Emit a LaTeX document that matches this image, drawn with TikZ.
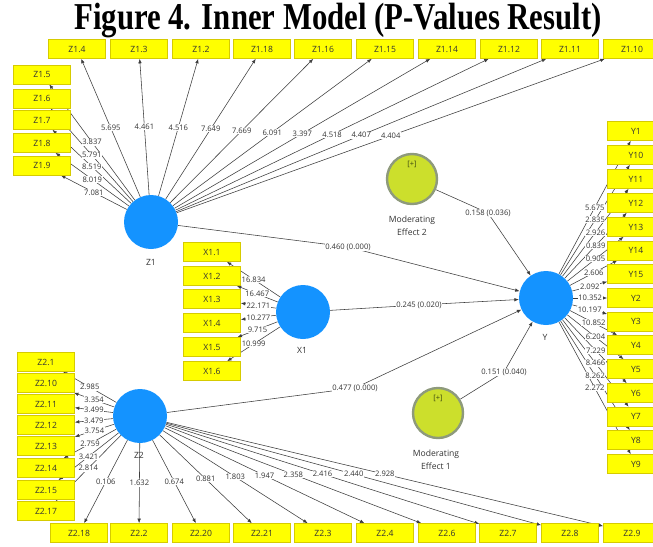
\documentclass[tikz,border=0pt]{standalone}
\usepackage{graphicx}
\usepackage{fontspec}
\setmainfont{Liberation Serif}
\newfontfamily\uifont{Open Sans}
\usetikzlibrary{arrows.meta}
\pgfdeclarelayer{bg}
\pgfdeclarelayer{edges}
\pgfdeclarelayer{labels}
\pgfsetlayers{bg,edges,labels,main}
\definecolor{latblue}{HTML}{1493FF}
\definecolor{boxfill}{HTML}{FFFF00}
\definecolor{boxline}{HTML}{D6CB00}
\definecolor{modfill}{HTML}{CCDF2C}
\definecolor{modline}{HTML}{8E9A7C}
\definecolor{edgecol}{HTML}{3C3C3C}
\definecolor{txtcol}{HTML}{333333}
\definecolor{tagcol}{HTML}{3E4A10}
\newcommand\loadlink[3]{%
  \begin{pgfonlayer}{edges}\draw[arr] (#1) -- (#2);\end{pgfonlayer}%
  \begin{pgfonlayer}{labels}\path (#1) -- (#2) node[lbl,pos=0.5]{#3};\end{pgfonlayer}}
\newcommand\pathlink[4]{%
  \begin{pgfonlayer}{edges}\draw[arr] (#1) -- (#2) -- (#3);\end{pgfonlayer}%
  \begin{pgfonlayer}{labels}\node[lbl] at (#2) {#4};\end{pgfonlayer}}
\begin{document}
\begin{tikzpicture}[x=1pt,y=-1pt,
  ind/.style={rectangle, draw=boxline, fill=boxfill, line width=0.6pt, minimum width=57pt, minimum height=19pt, inner sep=0pt, font=\uifont\fontsize{8.6}{10}\selectfont, text=txtcol},
  lat/.style={circle, fill=latblue, minimum size=54pt, inner sep=0pt},
  modr/.style={circle, fill=modfill, draw=modline, line width=2.4pt, minimum size=50pt, inner sep=0pt},
  arr/.style={draw=edgecol, line width=0.55pt, -{Latex[length=4.5pt,width=3.5pt]}},
  lbl/.style={fill=white, inner sep=0.6pt, font=\uifont\fontsize{7.6}{9}\selectfont, text=txtcol},
  latlbl/.style={font=\uifont\fontsize{8.6}{13}\selectfont, text=txtcol, align=center},
  tagtxt/.style={font=\uifont\fontsize{7.5}{9}\selectfont, text=tagcol}
]
\useasboundingbox (0,0) rectangle (653,546);
\begin{pgfonlayer}{bg}\fill[white] (0,0) rectangle (653,546);\end{pgfonlayer}
\clip (0,0) rectangle (653,546);

\node[anchor=base] (title) at (338,29) {\scalebox{0.81}[1]{\fontsize{38}{40}\selectfont\bfseries Figure 4. Inner Model (P-Values Result)}};

% latent variables
\node[lat] (Z1) at (151,222) {};
\node[latlbl] (z1lab) at (151,262) {Z1};
\node[lat] (X1) at (303,312) {};
\node[latlbl] (x1lab) at (302,350) {X1};
\node[lat] (Y) at (546,298) {};
\node[latlbl] (ylab) at (545,337) {Y};
\node[lat] (Z2) at (140,416) {};
\node[latlbl] (z2lab) at (139,455) {Z2};
\node[modr] (M2) at (412,179) {};
\node[tagtxt] (m2tag) at (412,164) {[+]};
\node[latlbl] (m2lab) at (412,225.5) {Moderating\\Effect 2};
\node[modr] (M1) at (438,413) {};
\node[tagtxt] (m1tag) at (438,398) {[+]};
\node[latlbl] (m1lab) at (436,459.5) {Moderating\\Effect 1};

% Z1 indicators (top row)
\foreach \n/\x/\v in {4/77/5.695, 3/139/4.461, 2/201/4.516, 18/262/7.649, 16/323/7.669, 15/385/6.091, 14/447/3.397, 12/509/4.518, 11/570/4.407, 10/632/4.404} {
  \node[ind] (za\n) at (\x,49) {Z1.\n};
  \loadlink{Z1}{za\n}{\v}
}
% Z1 indicators (left column)
\foreach \n/\y/\v in {5/74.5/3.837, 6/98.8/5.791, 7/120/8.519, 8/143/8.019, 9/165.5/7.081} {
  \node[ind] (zb\n) at (42,\y) {Z1.\n};
  \loadlink{Z1}{zb\n}{\v}
}
% X1 indicators
\foreach \n/\y/\v in {1/252/16.834, 2/276/16.467, 3/299/22.171, 4/323/10.277, 5/347/9.715, 6/371/10.999} {
  \node[ind] (xi\n) at (212,\y) {X1.\n};
  \loadlink{X1}{xi\n}{\v}
}
% Y indicators
\foreach \n/\y/\v in {1/131/5.675, 10/155/2.835, 11/179/2.926, 12/203/0.839, 13/227/0.905, 14/250.5/2.606, 15/274/2.092, 2/298/10.352, 3/321.5/10.197, 4/345/10.852, 5/369/6.204, 6/393/7.229, 7/416.5/8.466, 8/440/8.262, 9/464/2.272} {
  \node[ind] (yi\n) at (636,\y) {Y\n};
  \loadlink{Y}{yi\n}{\v}
}
% Z2 indicators (left column)
\foreach \n/\y/\v in {1/362/2.985, 10/383/3.354, 11/404/3.499, 12/425/3.479, 13/446/3.754, 14/468/2.759, 15/490/3.421, 17/511/2.814} {
  \node[ind] (zc\n) at (46,\y) {Z2.\n};
  \loadlink{Z2}{zc\n}{\v}
}
% Z2 indicators (bottom row)
\foreach \n/\x/\v in {18/79/0.106, 2/139/1.632, 20/201/0.674, 21/262/0.881, 3/323/1.803, 4/385/1.947, 6/447/2.358, 7/508/2.416, 8/570/2.440, 9/632/2.928} {
  \node[ind] (zd\n) at (\x,533) {Z2.\n};
  \loadlink{Z2}{zd\n}{\v}
}

% structural paths
\coordinate (b1) at (348,247);
\coordinate (b2) at (419,305);
\coordinate (b3) at (355,388);
\coordinate (b4) at (488,213);
\coordinate (b5) at (504,372);
\pathlink{Z1}{b1}{Y}{0.460 (0.000)}
\pathlink{X1}{b2}{Y}{0.245 (0.020)}
\pathlink{Z2}{b3}{Y}{0.477 (0.000)}
\pathlink{M2}{b4}{Y}{0.158 (0.036)}
\pathlink{M1}{b5}{Y}{0.151 (0.040)}
\end{tikzpicture}
\end{document}
